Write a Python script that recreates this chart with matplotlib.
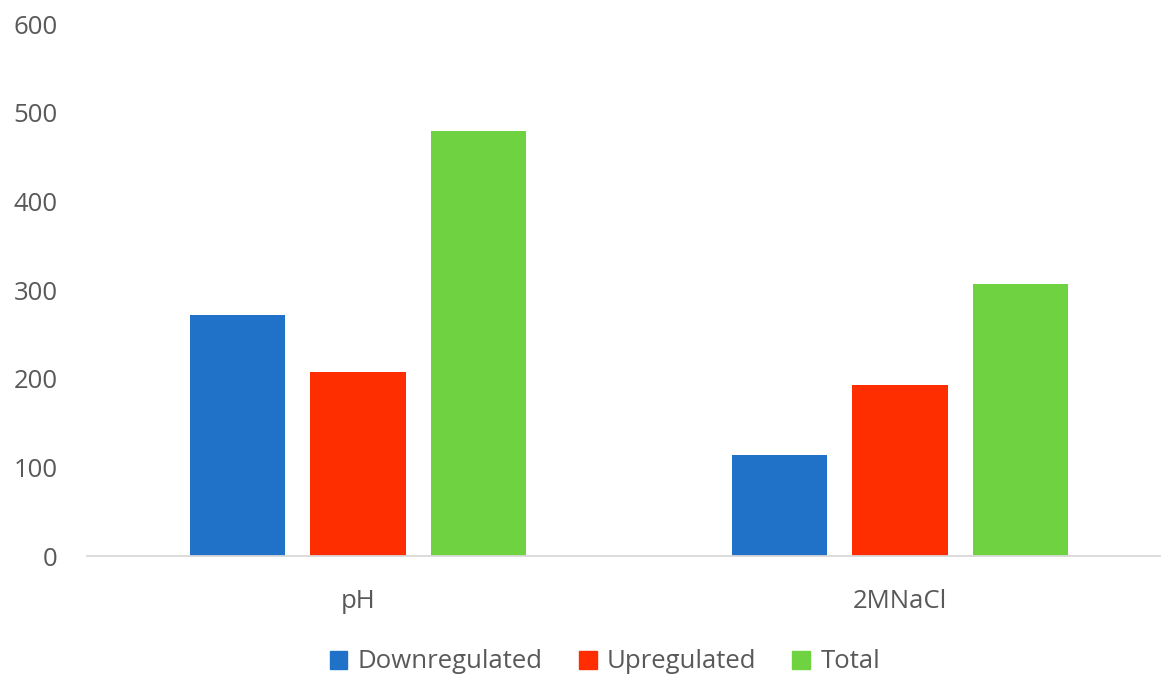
import numpy as np
import matplotlib
matplotlib.use("Agg")
from matplotlib import pyplot as plt
from matplotlib.patches import Patch

plt.rcParams['font.family'] = ['Open Sans', 'DejaVu Sans']

categories = ['pH', '2MNaCl']
downregulated = [272, 114]
upregulated = [207, 193]
total = [479, 307]
series_names = ['Downregulated', 'Upregulated', 'Total']
colors = ['#1F72C8', '#FF2E00', '#6FD341']
yticks = [0, 100, 200, 300, 400, 500, 600]

fig = plt.figure(figsize=(11.61, 6.77), dpi=100)
ax = fig.add_axes([87 / 1161, 1 - 556 / 677, 1084 / 1161, 532 / 677])

x = np.arange(len(categories))
step = 0.222
width = 0.176
for i, (vals, name) in enumerate(zip([downregulated, upregulated, total], series_names)):
    ax.bar(x + (i - 1) * step, vals, width, color=colors[i], label=name)

ax.set_xlim(-0.5, 1.5)
ax.set_ylim(0, 600)
ax.set_yticks(yticks)
ax.set_xticks(x)
ax.set_xticklabels(categories)

for s in ['top', 'right', 'left']:
    ax.spines[s].set_visible(False)
ax.spines['bottom'].set_color('#d9d9d9')
ax.spines['bottom'].set_linewidth(1.3)
ax.tick_params(axis='both', length=0, labelsize=18.5, labelcolor='#595959')
ax.tick_params(axis='y', pad=21)
ax.tick_params(axis='x', pad=24)

handles = [Patch(color=c) for c in colors]
fig.legend(handles, series_names, loc='center', bbox_to_anchor=(605 / 1161, 1 - 662 / 677),
           ncol=3, frameon=False, fontsize=18.5, labelcolor='#595959',
           handlelength=0.7, handleheight=0.7, handletextpad=0.4, columnspacing=1.4)

plt.savefig('out.png', dpi=100)
